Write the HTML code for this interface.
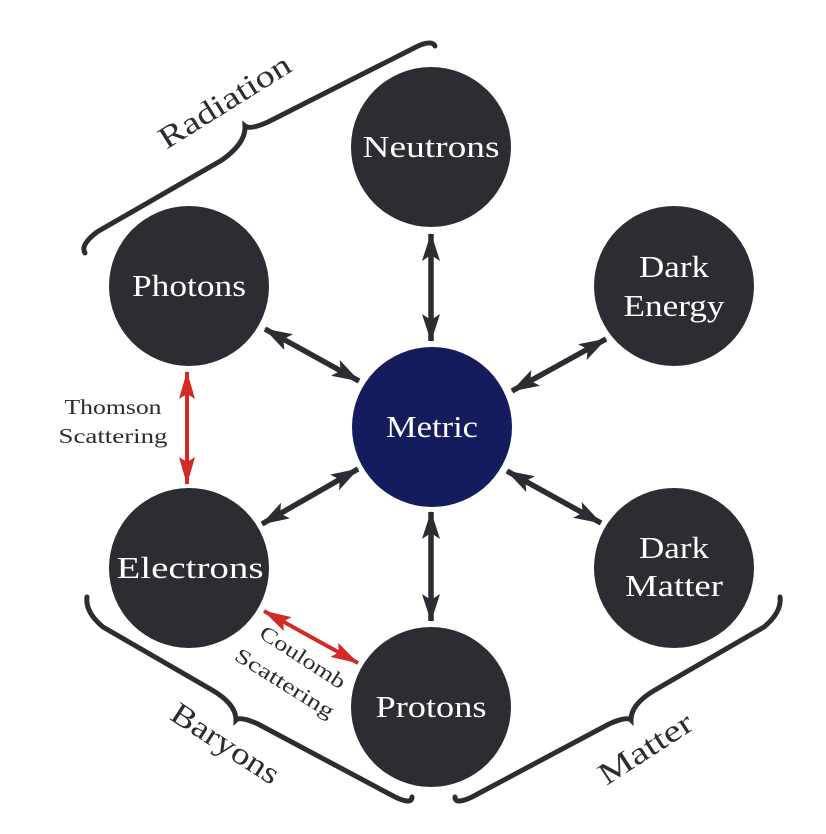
<!DOCTYPE html>
<html><head><meta charset="utf-8"><style>
html,body{margin:0;padding:0;background:#fff;}
svg{display:block;}
text{font-family:"Liberation Serif",serif;}
</style></head><body>
<svg width="826" height="834" viewBox="0 0 826 834" xmlns="http://www.w3.org/2000/svg">
<defs>
<marker id="a" viewBox="0 0 28 18" refX="27" refY="9" markerWidth="28" markerHeight="18" markerUnits="userSpaceOnUse" orient="auto-start-reverse">
<path d="M0,0 L28,9 L0,18 L6,9 Z" fill="#2b2d33"/></marker>
<marker id="r" viewBox="0 0 28 16" refX="27" refY="8" markerWidth="28" markerHeight="16" markerUnits="userSpaceOnUse" orient="auto-start-reverse">
<path d="M0,0 L28,8 L0,16 L5,8 Z" fill="#d42a25"/></marker>
</defs>
<g fill="#2b2d33">
<circle cx="431" cy="147" r="80"/>
<circle cx="189" cy="286" r="80"/>
<circle cx="674" cy="286" r="80"/>
<circle cx="189" cy="568" r="80"/>
<circle cx="674" cy="568" r="80"/>
<circle cx="431" cy="707" r="80"/>
</g>
<circle cx="432" cy="427" r="80" fill="#151c5e"/>
<g fill="#fff" font-size="31" text-anchor="middle">
<text x="431" y="157" textLength="137" lengthAdjust="spacingAndGlyphs">Neutrons</text>
<text x="189" y="296" textLength="114" lengthAdjust="spacingAndGlyphs">Photons</text>
<text x="674" y="277" textLength="70" lengthAdjust="spacingAndGlyphs">Dark</text>
<text x="674" y="316" textLength="101" lengthAdjust="spacingAndGlyphs">Energy</text>
<text x="432" y="437" textLength="92" lengthAdjust="spacingAndGlyphs">Metric</text>
<text x="190" y="578" textLength="147" lengthAdjust="spacingAndGlyphs">Electrons</text>
<text x="674" y="558" textLength="70" lengthAdjust="spacingAndGlyphs">Dark</text>
<text x="674" y="596" textLength="98" lengthAdjust="spacingAndGlyphs">Matter</text>
<text x="431" y="717" textLength="111" lengthAdjust="spacingAndGlyphs">Protons</text>
</g>
<g stroke="#2b2d33" stroke-width="5.5" marker-start="url(#a)" marker-end="url(#a)">
<line x1="431" y1="234" x2="431" y2="341"/>
<line x1="265" y1="329" x2="359" y2="381"/>
<line x1="606" y1="339" x2="512" y2="391"/>
<line x1="262" y1="524" x2="358" y2="469"/>
<line x1="507" y1="471" x2="601" y2="523"/>
<line x1="431" y1="512" x2="431" y2="621"/>
</g>
<g stroke="#d42a25" stroke-width="4" marker-start="url(#r)" marker-end="url(#r)">
<line x1="187" y1="372" x2="187" y2="484"/>
<line x1="264" y1="611" x2="358" y2="663"/>
</g>
<g fill="none" stroke="#2b2d33" stroke-width="5" stroke-linecap="round">
<path d="M85,253 Q80,245 97,232 L222,160 Q246,143 245,126 Q250,130 268,122 L418,46 Q432,40 435,46"/>
<path d="M87,597 Q85,612 103,627 L212,690 Q236,704 236,720 Q240,716 258,724 L395,797 Q412,805 412,797"/>
<path d="M780,597 Q782,612 764,627 L655,690 Q631,704 631,720 Q627,716 609,724 L472,797 Q455,805 455,797"/>
</g>
<g fill="#2b2d33" text-anchor="middle">
<text x="113" y="414" font-size="21" textLength="97" lengthAdjust="spacingAndGlyphs">Thomson</text>
<text x="113" y="443" font-size="21" textLength="109" lengthAdjust="spacingAndGlyphs">Scattering</text>
<text font-size="21" transform="translate(299,663) rotate(33)" textLength="98" lengthAdjust="spacingAndGlyphs">Coulomb</text>
<text font-size="21" transform="translate(281,689) rotate(32)" textLength="113" lengthAdjust="spacingAndGlyphs">Scattering</text>
<text font-size="31" transform="translate(230,110) rotate(-32)" textLength="150" lengthAdjust="spacingAndGlyphs">Radiation</text>
<text font-size="31" transform="translate(220,752) rotate(33)" textLength="123" lengthAdjust="spacingAndGlyphs">Baryons</text>
<text font-size="31" transform="translate(651,757) rotate(-33)" textLength="106" lengthAdjust="spacingAndGlyphs">Matter</text>
</g>
</svg>
</body></html>
